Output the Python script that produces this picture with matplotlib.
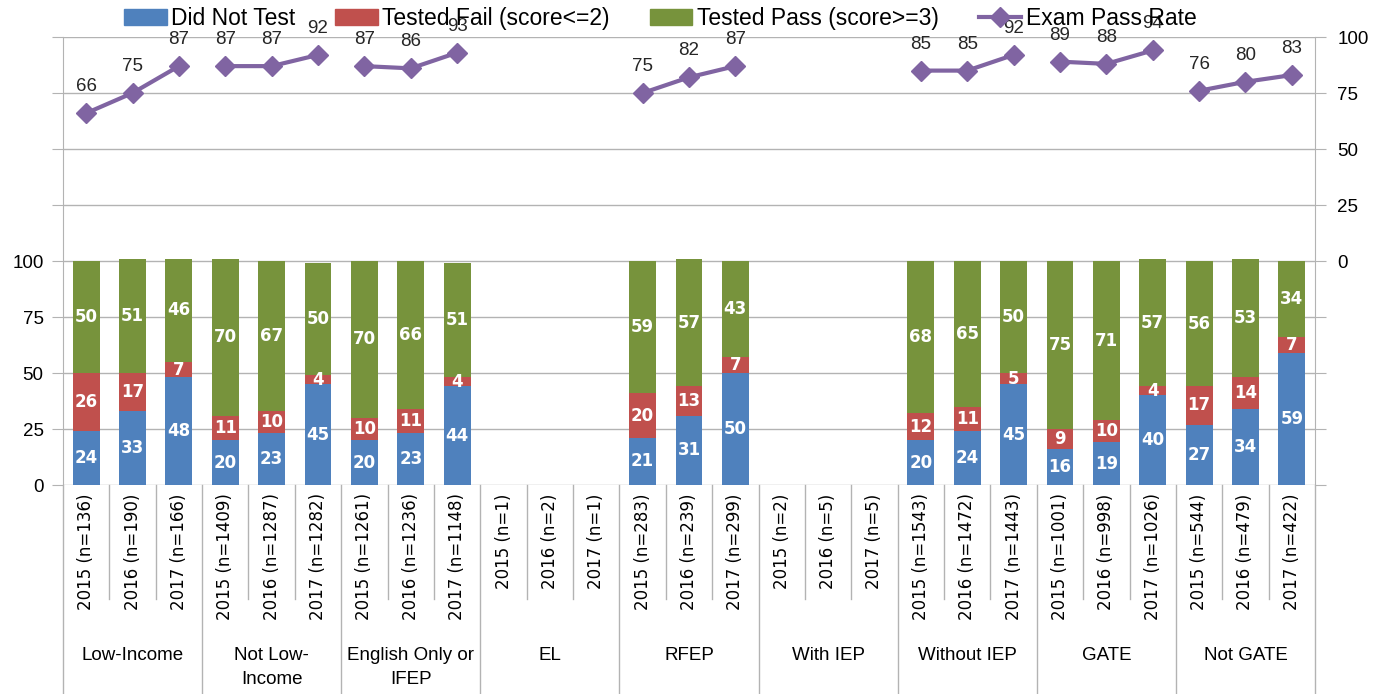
import matplotlib.pyplot as plt
from matplotlib.lines import Line2D
import numpy as np

groups = ['Low-Income', 'Not Low-\nIncome', 'English Only or\nIFEP', 'EL', 'RFEP',
          'With IEP', 'Without IEP', 'GATE', 'Not GATE']
years = ['2015', '2016', '2017']
counts = [136, 190, 166, 1409, 1287, 1282, 1261, 1236, 1148, 1, 2, 1, 283, 239, 299,
          2, 5, 5, 1543, 1472, 1443, 1001, 998, 1026, 544, 479, 422]
nan = np.nan
did_not_test = [24, 33, 48, 20, 23, 45, 20, 23, 44, nan, nan, nan, 21, 31, 50,
                nan, nan, nan, 20, 24, 45, 16, 19, 40, 27, 34, 59]
tested_fail = [26, 17, 7, 11, 10, 4, 10, 11, 4, nan, nan, nan, 20, 13, 7,
               nan, nan, nan, 12, 11, 5, 9, 10, 4, 17, 14, 7]
tested_pass = [50, 51, 46, 70, 67, 50, 70, 66, 51, nan, nan, nan, 59, 57, 43,
               nan, nan, nan, 68, 65, 50, 75, 71, 57, 56, 53, 34]
pass_rate = [66, 75, 87, 87, 87, 92, 87, 86, 93, nan, nan, nan, 75, 82, 87,
             nan, nan, nan, 85, 85, 92, 89, 88, 94, 76, 80, 83]

blue, red, green, purple = '#4F81BD', '#C0504D', '#77933C', '#8064A2'
grid_c = '#B3B3B3'
tick_labels = ['%s (n=%d)' % (years[i % 3], n) for i, n in enumerate(counts)]

dnt = np.array(did_not_test, dtype=float)
fail = np.array(tested_fail, dtype=float)
pas = np.array(tested_pass, dtype=float)
rate = np.array(pass_rate, dtype=float)
x = np.arange(len(counts))

fig = plt.figure(figsize=(13.73, 6.94), dpi=100)
ax = fig.add_axes([63 / 1373, 1 - 485 / 694, 1252 / 1373, 448 / 694])
ax2 = ax.twinx()

w = 0.58
ax.bar(x, dnt, w, color=blue, zorder=3)
ax.bar(x, fail, w, bottom=dnt, color=red, zorder=3)
ax.bar(x, pas, w, bottom=dnt + fail, color=green, zorder=3)

for i in x:
    if np.isnan(dnt[i]):
        continue
    for bot, val in [(0, dnt[i]), (dnt[i], fail[i]), (dnt[i] + fail[i], pas[i])]:
        ax.text(i, bot + val / 2, '%d' % val, ha='center', va='center',
                color='white', fontsize=12, fontweight='bold', zorder=4)

ax.set_xlim(-0.5, len(counts) - 0.5)
ax.set_ylim(0, 200)
ax.set_yticks(np.arange(0, 201, 25))
ax.set_yticklabels([str(v) if v <= 100 else '' for v in range(0, 201, 25)],
                   fontsize=13.5, family='Liberation Sans')
ax.yaxis.grid(True, color=grid_c, lw=1, zorder=0)
ax.set_xticks(x)
ax.set_xticklabels(tick_labels, rotation=90, fontsize=12)
ax.tick_params(axis='x', length=0, pad=6)
ax.tick_params(axis='y', length=8, color=grid_c, pad=6)
for s in ['top', 'bottom', 'right']:
    ax.spines[s].set_visible(False)
ax.spines['left'].set_color(grid_c)

# pass rate line, one segment per group
for g in range(len(groups)):
    xs = x[3 * g:3 * g + 3]
    ys = rate[3 * g:3 * g + 3]
    ax2.plot(xs, ys, color=purple, lw=3, marker='D', ms=10, zorder=5)
    for xi, yi in zip(xs, ys):
        if not np.isnan(yi):
            ax2.annotate('%d' % yi, (xi, yi), xytext=(0, 13), textcoords='offset points',
                         ha='center', va='bottom', fontsize=13.5, family='Liberation Sans',
                         color='#262626')
ax2.set_ylim(-100, 100)
ax2.set_yticks(np.arange(-100, 101, 25))
ax2.set_yticklabels([str(v) if v >= 0 else '' for v in range(-100, 101, 25)],
                    fontsize=13.5, family='Liberation Sans')
ax2.tick_params(axis='y', length=8, color=grid_c, pad=8)
for s in ['top', 'bottom', 'left']:
    ax2.spines[s].set_visible(False)
ax2.spines['right'].set_color(grid_c)

# category and group separators below the axis
tr = ax.get_xaxis_transform()
for b in np.arange(-0.5, len(counts), 1):
    k = int(b + 0.5)
    bottom = -0.47 if k % 3 == 0 else -0.255
    ax.add_line(Line2D([b, b], [0, bottom], transform=tr, color=grid_c, lw=1, clip_on=False))
for g, name in enumerate(groups):
    ax.text(3 * g + 1, -0.362, name, transform=tr, ha='center', va='top',
            fontsize=13.5, family='Liberation Sans', linespacing=1.5)

handles = [plt.Rectangle((0, 0), 1, 1, color=blue),
           plt.Rectangle((0, 0), 1, 1, color=red),
           plt.Rectangle((0, 0), 1, 1, color=green),
           Line2D([], [], color=purple, lw=3, marker='D', ms=10)]
fig.legend(handles, ['Did Not Test', 'Tested Fail (score<=2)', 'Tested Pass (score>=3)',
                     'Exam Pass Rate'],
           loc='center', bbox_to_anchor=(0.481, 0.974), ncol=4, frameon=False,
           prop={'family': 'Liberation Sans', 'size': 16.5}, handlelength=1.85,
           columnspacing=1.75, handletextpad=0.2)

fig.savefig('out.png', dpi=100)
